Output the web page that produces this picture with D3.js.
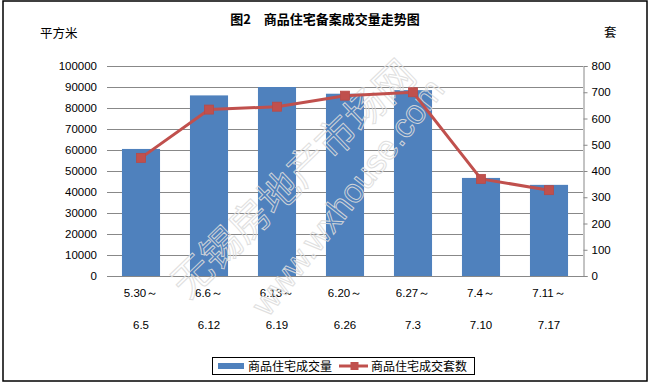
<!DOCTYPE html>
<html><head><meta charset="utf-8">
<script src="https://cdn.jsdelivr.net/npm/d3@7"></script>
<style>body{margin:0;background:#fff;}svg{display:block;}</style>
</head><body>
<svg id="c" width="650" height="385"></svg>
<script>
const categoriesTop = ["5.30～","6.6～","6.13～","6.20～","6.27～","7.4～","7.11～"];
const categoriesBottom = ["6.5","6.12","6.19","6.26","7.3","7.10","7.17"];
const areaValues = [60500, 86000, 90000, 86800, 88500, 46700, 43400];
const unitValues = [450, 634, 645, 687, 700, 370, 327];
const leftTicks = [0,10000,20000,30000,40000,50000,60000,70000,80000,90000,100000];
const rightTicks = [0,100,200,300,400,500,600,700,800];
const title = "图2　商品住宅备案成交量走势图";
const leftUnit = "平方米";
const rightUnit = "套";
const seriesNames = ["商品住宅成交量","商品住宅成交套数"];

const svg = d3.select("#c");
const cjk = "'Noto Sans CJK SC', sans-serif";
const num = "'Liberation Sans', Arial, sans-serif";
const L = 107, R = 583, T = 66, B = 276;

const x = d3.scaleBand().domain(categoriesTop.map((d,i)=>i)).range([L,R]).paddingInner(0.44).paddingOuter(0.22);
const yL = d3.scaleLinear().domain([0,100000]).range([B,T]);
const yR = d3.scaleLinear().domain([0,800]).range([B,T]);

// outer border
svg.append("rect").attr("x",3).attr("y",1).attr("width",644).attr("height",380)
  .attr("fill","#fff").attr("stroke","#000").attr("stroke-width",1.5);

// gridlines
svg.append("g").selectAll("line").data(leftTicks.filter(d=>d>0)).join("line")
  .attr("x1",L).attr("x2",R).attr("y1",d=>Math.round(yL(d))+0.5).attr("y2",d=>Math.round(yL(d))+0.5)
  .attr("stroke","#888").attr("stroke-width",1);

// left axis labels
const gl = svg.append("g").attr("transform",`translate(${L},0)`)
  .call(d3.axisLeft(yL).tickValues(leftTicks).tickSize(0).tickPadding(10).tickFormat(d3.format("d")));
gl.select(".domain").remove();
gl.selectAll("text").attr("font-family",num).attr("font-size",11.5).attr("fill","#000");

// right axis
const gr = svg.append("g").attr("transform",`translate(${R+0.5},0)`)
  .call(d3.axisRight(yR).tickValues(rightTicks).tickSize(4).tickPadding(4).tickFormat(d3.format("d")));
gr.select(".domain").attr("stroke","#888");
gr.selectAll(".tick line").attr("stroke","#888");
gr.selectAll("text").attr("font-family",num).attr("font-size",11.5).attr("fill","#000");

// bars
svg.append("g").selectAll("rect").data(areaValues).join("rect")
  .attr("x",(d,i)=>x(i)).attr("width",x.bandwidth())
  .attr("y",d=>yL(d)).attr("height",d=>B-yL(d)).attr("fill","#4F81BD");

// bottom axis line
svg.append("line").attr("x1",L).attr("x2",R+4).attr("y1",B+0.5).attr("y2",B+0.5).attr("stroke","#888");

// x labels
const xl = svg.append("g");
xl.selectAll("text.t").data(categoriesTop).join("text").attr("class","t")
  .attr("x",(d,i)=>x(i)+x.bandwidth()/2).attr("y",297).attr("text-anchor","middle")
  .attr("font-family",num).attr("font-size",11.5).text(d=>d);
xl.selectAll("text.b").data(categoriesBottom).join("text").attr("class","b")
  .attr("x",(d,i)=>x(i)+x.bandwidth()/2).attr("y",329).attr("text-anchor","middle")
  .attr("font-family",num).attr("font-size",11.5).text(d=>d);

// watermark
const wm = svg.append("g").attr("fill","none").attr("stroke","#dcdcdc").attr("stroke-width",1).attr("opacity",0.9);
wm.append("text").attr("transform","translate(188,300) rotate(-44)")
  .attr("font-family",cjk).attr("font-size",40).text("无锡房地产市场网");
wm.append("text").attr("transform","translate(268,318) rotate(-52)")
  .attr("font-family",num).attr("font-size",34).text("www.wxhouse.com");

// line
const line = d3.line().x((d,i)=>x(i)+x.bandwidth()/2).y(d=>yR(d));
svg.append("path").datum(unitValues).attr("d",line).attr("fill","none")
  .attr("stroke","#C0504D").attr("stroke-width",3);
svg.append("g").selectAll("rect").data(unitValues).join("rect")
  .attr("x",(d,i)=>x(i)+x.bandwidth()/2-4.5).attr("y",d=>yR(d)-4.5)
  .attr("width",9).attr("height",9).attr("fill","#C0504D").attr("stroke","#B84A47").attr("stroke-width",0.8);

// titles
svg.append("text").attr("x",325).attr("y",24).attr("text-anchor","middle")
  .attr("font-family",cjk).attr("font-size",13).attr("font-weight","bold").text(title);
svg.append("text").attr("x",40).attr("y",38).attr("font-family",cjk).attr("font-size",12.5).text(leftUnit);
svg.append("text").attr("x",604).attr("y",37).attr("font-family",cjk).attr("font-size",12.5).text(rightUnit);

// legend
const lg = svg.append("g");
lg.append("rect").attr("x",212.5).attr("y",357.5).attr("width",262).attr("height",17)
  .attr("fill","#fff").attr("stroke","#000").attr("stroke-width",1);
lg.append("rect").attr("x",218).attr("y",363).attr("width",26).attr("height",6).attr("fill","#4F81BD");
lg.append("text").attr("x",248).attr("y",371).attr("font-family",cjk).attr("font-size",12).text(seriesNames[0]);
lg.append("line").attr("x1",339).attr("x2",368).attr("y1",366).attr("y2",366).attr("stroke","#C0504D").attr("stroke-width",3);
lg.append("rect").attr("x",350.5).attr("y",362).attr("width",8).attr("height",8).attr("fill","#C0504D");
lg.append("text").attr("x",371).attr("y",371).attr("font-family",cjk).attr("font-size",12).text(seriesNames[1]);
</script>
</body></html>
